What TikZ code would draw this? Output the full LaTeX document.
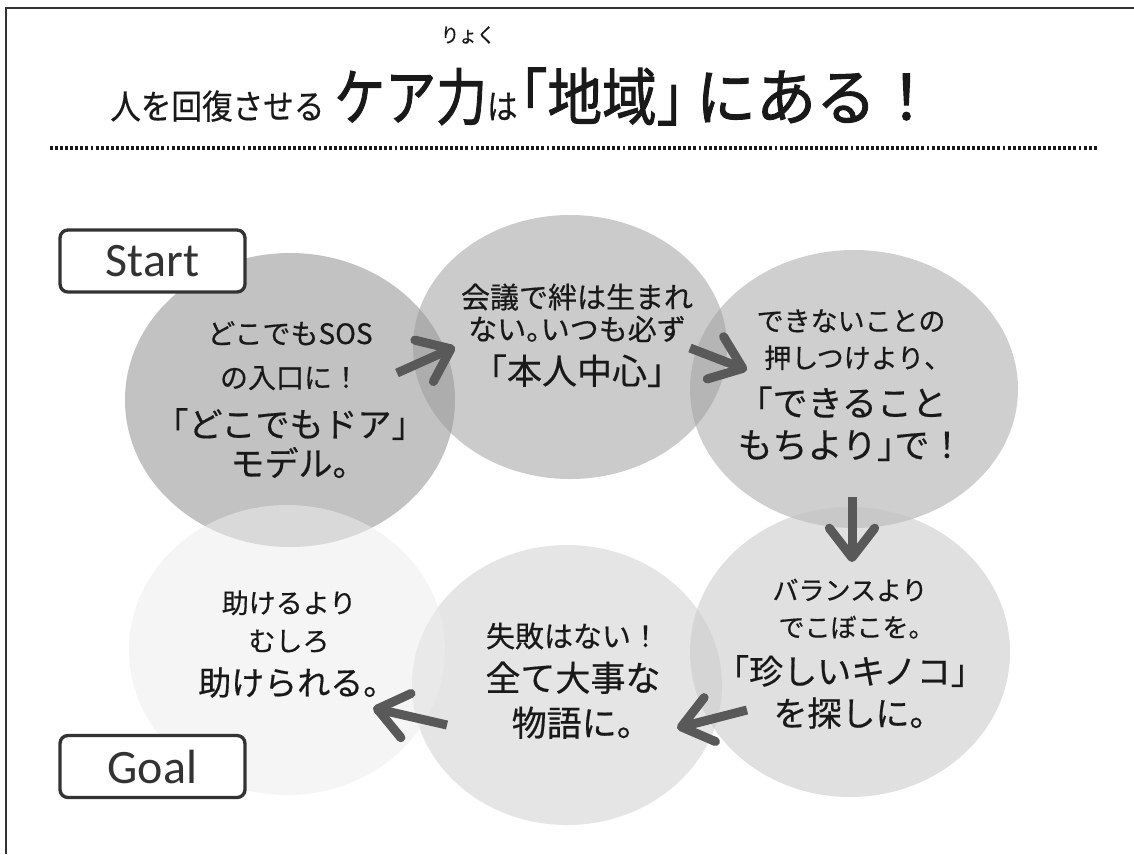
\documentclass[tikz,border=0pt]{standalone}
\usepackage{fontspec}
\usepackage{graphicx}
\usetikzlibrary{shapes.geometric,arrows.meta}
\setmainfont{Noto Sans CJK JP}[FakeBold=0.5]
\newfontfamily\jph{Noto Sans CJK JP}[RawFeature=+halt,FakeBold=0.5]
\newfontfamily\jpb{Noto Sans CJK JP}[FakeBold=1.6]
\newfontfamily\jpbh{Noto Sans CJK JP}[RawFeature=+halt,FakeBold=1.6]
\newfontfamily\carl{Carlito}
\newcommand\fsize[1]{\fontsize{#1}{#1}\selectfont}
\newcommand\lbk{{\jph 「}}
\newcommand\rbk{{\jph 」}}
\newcommand\kut{{\jph 。}}
\newcommand\tou{{\jph 、}}
\definecolor{ca}{gray}{0.53}
\definecolor{cb}{gray}{0.6}
\definecolor{cc}{gray}{0.63}
\definecolor{cd}{gray}{0.76}
\definecolor{ce}{gray}{0.8}
\definecolor{cf}{gray}{0.93}
\definecolor{ink}{gray}{0.1}
\tikzset{
  bub/.style={ellipse, draw=none, inner sep=0pt, fill opacity=0.5},
  arr/.style={draw=black!65, line width=6.75pt, -{Straight Barb[length=22pt,width=34pt,round]}},
  lbl/.style={anchor=base, inner sep=0pt, text=ink},
  ttl/.style={anchor=base west, inner sep=0pt, text=ink},
  sgbox/.style={draw=black!80, line width=2.5pt, rounded corners=6pt, fill=white,
    minimum width=138.75pt, minimum height=46.5pt, inner sep=0pt,
    font=\carl\fsize{36}, text=black!80}
}
\begin{document}
\begin{tikzpicture}[x=0.75pt,y=-0.75pt]
\useasboundingbox (0,0) rectangle (1134,854);
\fill[white] (0,0) rectangle (1134,854);
\draw[black!80, line width=1.5pt] (5.5,854) -- (5.5,7.5) -- (1134,7.5);

% title
\node[ttl] (title) at (110,119) {%
  \fsize{25.5}\scalebox{0.9}[1]{人を回復させる}\hspace{7.5pt}%
  \raisebox{-0.75pt}{\jpb\fsize{46.5}\scalebox{0.82}[1]{ケア力}}%
  \scalebox{0.9}[1]{は}\hspace{2pt}%
  \raisebox{-0.75pt}{\jpb\fsize{46.5}\scalebox{0.88}[1]{{\jpbh 「}地域{\jpbh 」}}\hspace{9pt}%
  \scalebox{0.97}[1]{にある！}}};
\node[inner sep=0pt, text=ink] (ruby) at (468,35) {\fsize{15}\scalebox{0.9}[1]{りょく}};
\draw[black!90, line width=3.2pt, dash pattern=on 2.2pt off 1.6pt] (50,148) -- (1098,148);

% circles
\node[bub, fill=ca, minimum width=247.5pt, minimum height=220.5pt] (cA) at (290,400) {};
\node[bub, fill=cb, minimum width=235.5pt, minimum height=198pt] (cB) at (570,347) {};
\node[bub, fill=cc, minimum width=246pt, minimum height=208.5pt] (cC) at (854,389) {};
\node[bub, fill=cd, minimum width=240pt, minimum height=217.5pt] (cD) at (850,652) {};
\node[bub, fill=ce, minimum width=232.5pt, minimum height=210pt] (cE) at (567,685) {};
\node[bub, fill=cf, fill opacity=0.54, minimum width=237pt, minimum height=217.5pt] (cF) at (287,650) {};

% arrows
\coordinate (a1s) at (397,373); \coordinate (a1e) at (455,347);
\coordinate (a2s) at (690,348); \coordinate (a2e) at (747,370);
\coordinate (a3s) at (852,497); \coordinate (a3e) at (852,562);
\coordinate (a4s) at (747,710); \coordinate (a4e) at (677,728);
\coordinate (a5s) at (447,725); \coordinate (a5e) at (373,708);
\draw[arr] (a1s) -- (a1e);
\draw[arr] (a2s) -- (a2e);
\draw[arr] (a3s) -- (a3e);
\draw[arr] (a4s) -- (a4e);
\draw[arr] (a5s) -- (a5e);

% texts
\node[lbl] (a1) at (290,344) {\fsize{21}どこでもSOS};
\node[lbl] (a2) at (290,388) {\fsize{21}の入口に！};
\node[lbl] (a3) at (290,437) {\fsize{25.5}\lbk どこでもドア\rbk};
\node[lbl] (a4) at (290,476) {\fsize{25.5}モデル\kut};

\node[lbl] (b1) at (577,308) {\fsize{21.75}会議で絆は生まれ};
\node[lbl] (b2) at (577,340) {\fsize{21.75}ない\kut いつも必ず};
\node[lbl] (b3) at (577,384) {\fsize{26.25}\lbk 本人中心\rbk};

\node[lbl] (c1) at (851,331) {\fsize{20.25}できないことの};
\node[lbl] (c2) at (851,368) {\fsize{20.25}押しつけより\tou};
\node[lbl] (c3) at (851,416) {\fsize{26.25}\lbk できること};
\node[lbl] (c4) at (851,458) {\fsize{26.25}もちより\rbk で！};

\node[lbl] (d1) at (850,600) {\fsize{19.5}バランスより};
\node[lbl] (d2) at (850,637) {\fsize{19.5}でこぼこを\kut};
\node[lbl] (d3) at (850,684) {\fsize{25.5}\lbk 珍しいキノコ\rbk};
\node[lbl] (d4) at (850,726) {\fsize{25.5}を探しに\kut};

\node[lbl] (e1) at (573,647) {\fsize{21.75}失敗はない！};
\node[lbl] (e2) at (573,691) {\fsize{26.25}全て大事な};
\node[lbl] (e3) at (573,736) {\fsize{26.25}物語に\kut};

\node[lbl] (f1) at (289,613) {\fsize{20.25}助けるより};
\node[lbl] (f2) at (289,651) {\fsize{20.25}むしろ};
\node[lbl] (f3) at (289,695) {\fsize{24.75}助けられる\kut};

% start / goal
\node[sgbox] (start) at (152.5,261) {Start};
\node[sgbox] (goal) at (152.5,766.5) {Goal};
\end{tikzpicture}
\end{document}
